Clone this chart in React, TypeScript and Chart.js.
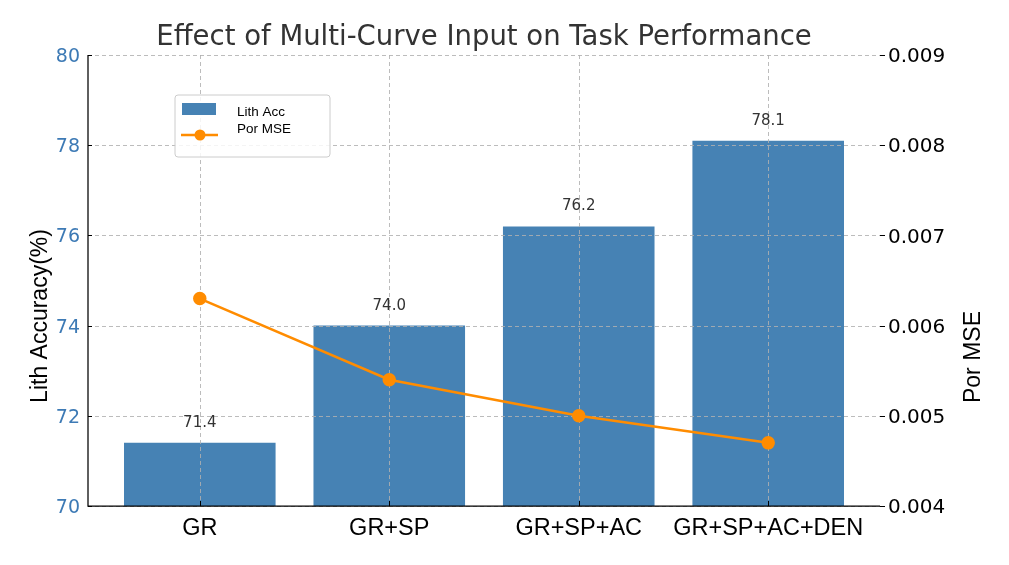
import { useEffect, useRef } from "react";
import { Chart, registerables } from "chart.js";

Chart.register(...registerables);

const categories = ["GR", "GR+SP", "GR+SP+AC", "GR+SP+AC+DEN"];
const lithAcc = [71.4, 74.0, 76.2, 78.1];
const porMse = [0.0063, 0.0054, 0.005, 0.0047];
const leftTicks = [70, 72, 74, 76, 78, 80];
const rightTicks = [0.004, 0.005, 0.006, 0.007, 0.008, 0.009];
const titleText = "Effect of Multi-Curve Input on Task Performance";
const leftTitle = "Lith Accuracy(%)";
const rightTitle = "Por MSE";
const seriesNames = ["Lith Acc", "Por MSE"];

const BAR_COLOR = "#4682b4";
const LINE_COLOR = "#ff8c00";

const decor = {
  id: "decor",
  afterDatasetDraw(chart: any, args: any) {
    if (args.index !== 0) return;
    const { ctx, chartArea: a, scales } = chart;
    ctx.save();
    ctx.strokeStyle = "rgba(176,176,176,0.85)";
    ctx.lineWidth = 1;
    ctx.setLineDash([4, 3]);
    leftTicks.forEach((v) => {
      const y = Math.round(scales.y.getPixelForValue(v)) + 0.5;
      ctx.beginPath();
      ctx.moveTo(a.left, y);
      ctx.lineTo(a.right, y);
      ctx.stroke();
    });
    categories.forEach((_, i) => {
      const x = Math.round(scales.x.getPixelForValue(i)) + 0.5;
      ctx.beginPath();
      ctx.moveTo(x, a.top);
      ctx.lineTo(x, a.bottom);
      ctx.stroke();
    });
    ctx.restore();
  },
  afterDraw(chart: any) {
    const { ctx, chartArea: a, scales } = chart;
    ctx.save();
    // title
    ctx.fillStyle = "#333333";
    ctx.font = "27.5px 'DejaVu Sans'";
    ctx.textAlign = "center";
    ctx.textBaseline = "alphabetic";
    ctx.fillText(titleText, (a.left + a.right) / 2, 45);

    // value labels
    ctx.font = "15px 'DejaVu Sans'";
    ctx.fillStyle = "#333333";
    lithAcc.forEach((v, i) => {
      const x = scales.x.getPixelForValue(i);
      const y = scales.y.getPixelForValue(v);
      ctx.fillText(v.toFixed(1), x, y - 16);
    });

    // spines
    ctx.strokeStyle = "#000";
    ctx.lineWidth = 1.25;
    ctx.beginPath();
    ctx.moveTo(a.left, a.top);
    ctx.lineTo(a.left, a.bottom);
    ctx.lineTo(a.right, a.bottom);
    ctx.stroke();

    // tick marks
    ctx.lineWidth = 1;
    categories.forEach((_, i) => {
      const x = Math.round(scales.x.getPixelForValue(i)) + 0.5;
      ctx.beginPath();
      ctx.moveTo(x, a.bottom);
      ctx.lineTo(x, a.bottom - 5);
      ctx.stroke();
    });
    leftTicks.forEach((v) => {
      const y = Math.round(scales.y.getPixelForValue(v)) + 0.5;
      ctx.beginPath();
      ctx.moveTo(a.left, y);
      ctx.lineTo(a.left + 4, y);
      ctx.stroke();
    });
    rightTicks.forEach((v) => {
      const y = Math.round(scales.y2.getPixelForValue(v)) + 0.5;
      ctx.beginPath();
      ctx.moveTo(a.right, y);
      ctx.lineTo(a.right + 5, y);
      ctx.stroke();
    });

    // axis titles
    ctx.fillStyle = "#000";
    ctx.font = "23px 'Liberation Sans'";
    ctx.textAlign = "center";
    ctx.textBaseline = "alphabetic";
    ctx.save();
    ctx.translate(47, 316);
    ctx.rotate(-Math.PI / 2);
    ctx.fillText(leftTitle, 0, 0);
    ctx.restore();
    ctx.save();
    ctx.translate(980, 357);
    ctx.rotate(-Math.PI / 2);
    ctx.fillText(rightTitle, 0, 0);
    ctx.restore();

    // legend
    const lx = 175, ly = 95, lw = 155, lh = 62, r = 3;
    ctx.beginPath();
    ctx.moveTo(lx + r, ly);
    ctx.lineTo(lx + lw - r, ly);
    ctx.quadraticCurveTo(lx + lw, ly, lx + lw, ly + r);
    ctx.lineTo(lx + lw, ly + lh - r);
    ctx.quadraticCurveTo(lx + lw, ly + lh, lx + lw - r, ly + lh);
    ctx.lineTo(lx + r, ly + lh);
    ctx.quadraticCurveTo(lx, ly + lh, lx, ly + lh - r);
    ctx.lineTo(lx, ly + r);
    ctx.quadraticCurveTo(lx, ly, lx + r, ly);
    ctx.closePath();
    ctx.fillStyle = "rgba(255,255,255,0.85)";
    ctx.fill();
    ctx.strokeStyle = "#cccccc";
    ctx.lineWidth = 1;
    ctx.stroke();

    ctx.fillStyle = BAR_COLOR;
    ctx.fillRect(182, 103, 34, 12);
    ctx.strokeStyle = LINE_COLOR;
    ctx.lineWidth = 2.5;
    ctx.beginPath();
    ctx.moveTo(181, 135);
    ctx.lineTo(218, 135);
    ctx.stroke();
    ctx.fillStyle = LINE_COLOR;
    ctx.beginPath();
    ctx.arc(200, 135, 5.5, 0, Math.PI * 2);
    ctx.fill();

    ctx.fillStyle = "#000";
    ctx.font = "13.5px 'Liberation Sans'";
    ctx.textAlign = "left";
    ctx.fillText(seriesNames[0], 237, 116);
    ctx.fillText(seriesNames[1], 237, 133);

    ctx.restore();
  },
};

export default function App() {
  const ref = useRef<HTMLCanvasElement>(null);
  useEffect(() => {
    const chart = new Chart(ref.current as HTMLCanvasElement, {
      type: "bar",
      data: {
        datasets: [
          {
            type: "bar",
            label: seriesNames[0],
            data: lithAcc.map((v, i) => ({ x: i, y: v })),
            backgroundColor: BAR_COLOR,
            barPercentage: 0.8,
            categoryPercentage: 1,
            xAxisID: "x",
            yAxisID: "y",
            order: 2,
          },
          {
            type: "line",
            label: seriesNames[1],
            data: porMse.map((v, i) => ({ x: i, y: v })),
            borderColor: LINE_COLOR,
            backgroundColor: LINE_COLOR,
            borderWidth: 2.5,
            pointRadius: 5.5,
            pointBackgroundColor: LINE_COLOR,
            pointBorderColor: LINE_COLOR,
            xAxisID: "x",
            yAxisID: "y2",
            order: 1,
          },
        ] as any,
      },
      options: {
        responsive: false,
        animation: false,
        devicePixelRatio: 1,
        layout: { padding: { top: 55, left: 0, right: 0, bottom: 0 } },
        plugins: {
          legend: { display: false },
          tooltip: { enabled: false },
          title: { display: false },
        },
        scales: {
          x: {
            type: "linear",
            position: "bottom",
            min: -0.59,
            max: 3.59,
            offset: false,
            grid: { display: false, drawTicks: false },
            border: { display: false },
            afterBuildTicks: (s: any) => {
              s.ticks = categories.map((_, i) => ({ value: i }));
            },
            afterFit: (s: any) => {
              s.height = 59;
            },
            ticks: {
              autoSkip: false,
              maxRotation: 0,
              minRotation: 0,
              padding: 8,
              color: "#000",
              font: { family: "'Liberation Sans'", size: 23.5 },
              callback: (v: any) => categories[Math.round(Number(v))] ?? "",
            },
          },
          y: {
            type: "linear",
            position: "left",
            min: 70,
            max: 80,
            grid: { display: false, drawTicks: false },
            border: { display: false },
            afterBuildTicks: (s: any) => {
              s.ticks = leftTicks.map((v) => ({ value: v }));
            },
            afterFit: (s: any) => {
              s.width = 88;
            },
            ticks: {
              padding: 8,
              labelOffset: 2,
              color: "#3d7ab5",
              font: { family: "'DejaVu Sans'", size: 19 },
              callback: (v: any) => String(v),
            },
          },
          y2: {
            type: "linear",
            position: "right",
            min: 0.004,
            max: 0.009,
            grid: { display: false, drawTicks: false },
            border: { display: false },
            afterBuildTicks: (s: any) => {
              s.ticks = rightTicks.map((v) => ({ value: v }));
            },
            afterFit: (s: any) => {
              s.width = 129;
            },
            ticks: {
              padding: 8,
              labelOffset: 2,
              color: "#000",
              font: { family: "'DejaVu Sans'", size: 20 },
              callback: (v: any) => Number(v).toFixed(3),
            },
          },
        },
      } as any,
      plugins: [decor],
    });
    return () => chart.destroy();
  }, []);
  return (
    <div
      style={{
        position: "absolute",
        left: 0,
        top: 0,
        width: 1009,
        height: 565,
        background: "#fff",
      }}
    >
      <canvas ref={ref} width={1009} height={565} style={{ display: "block" }} />
    </div>
  );
}
